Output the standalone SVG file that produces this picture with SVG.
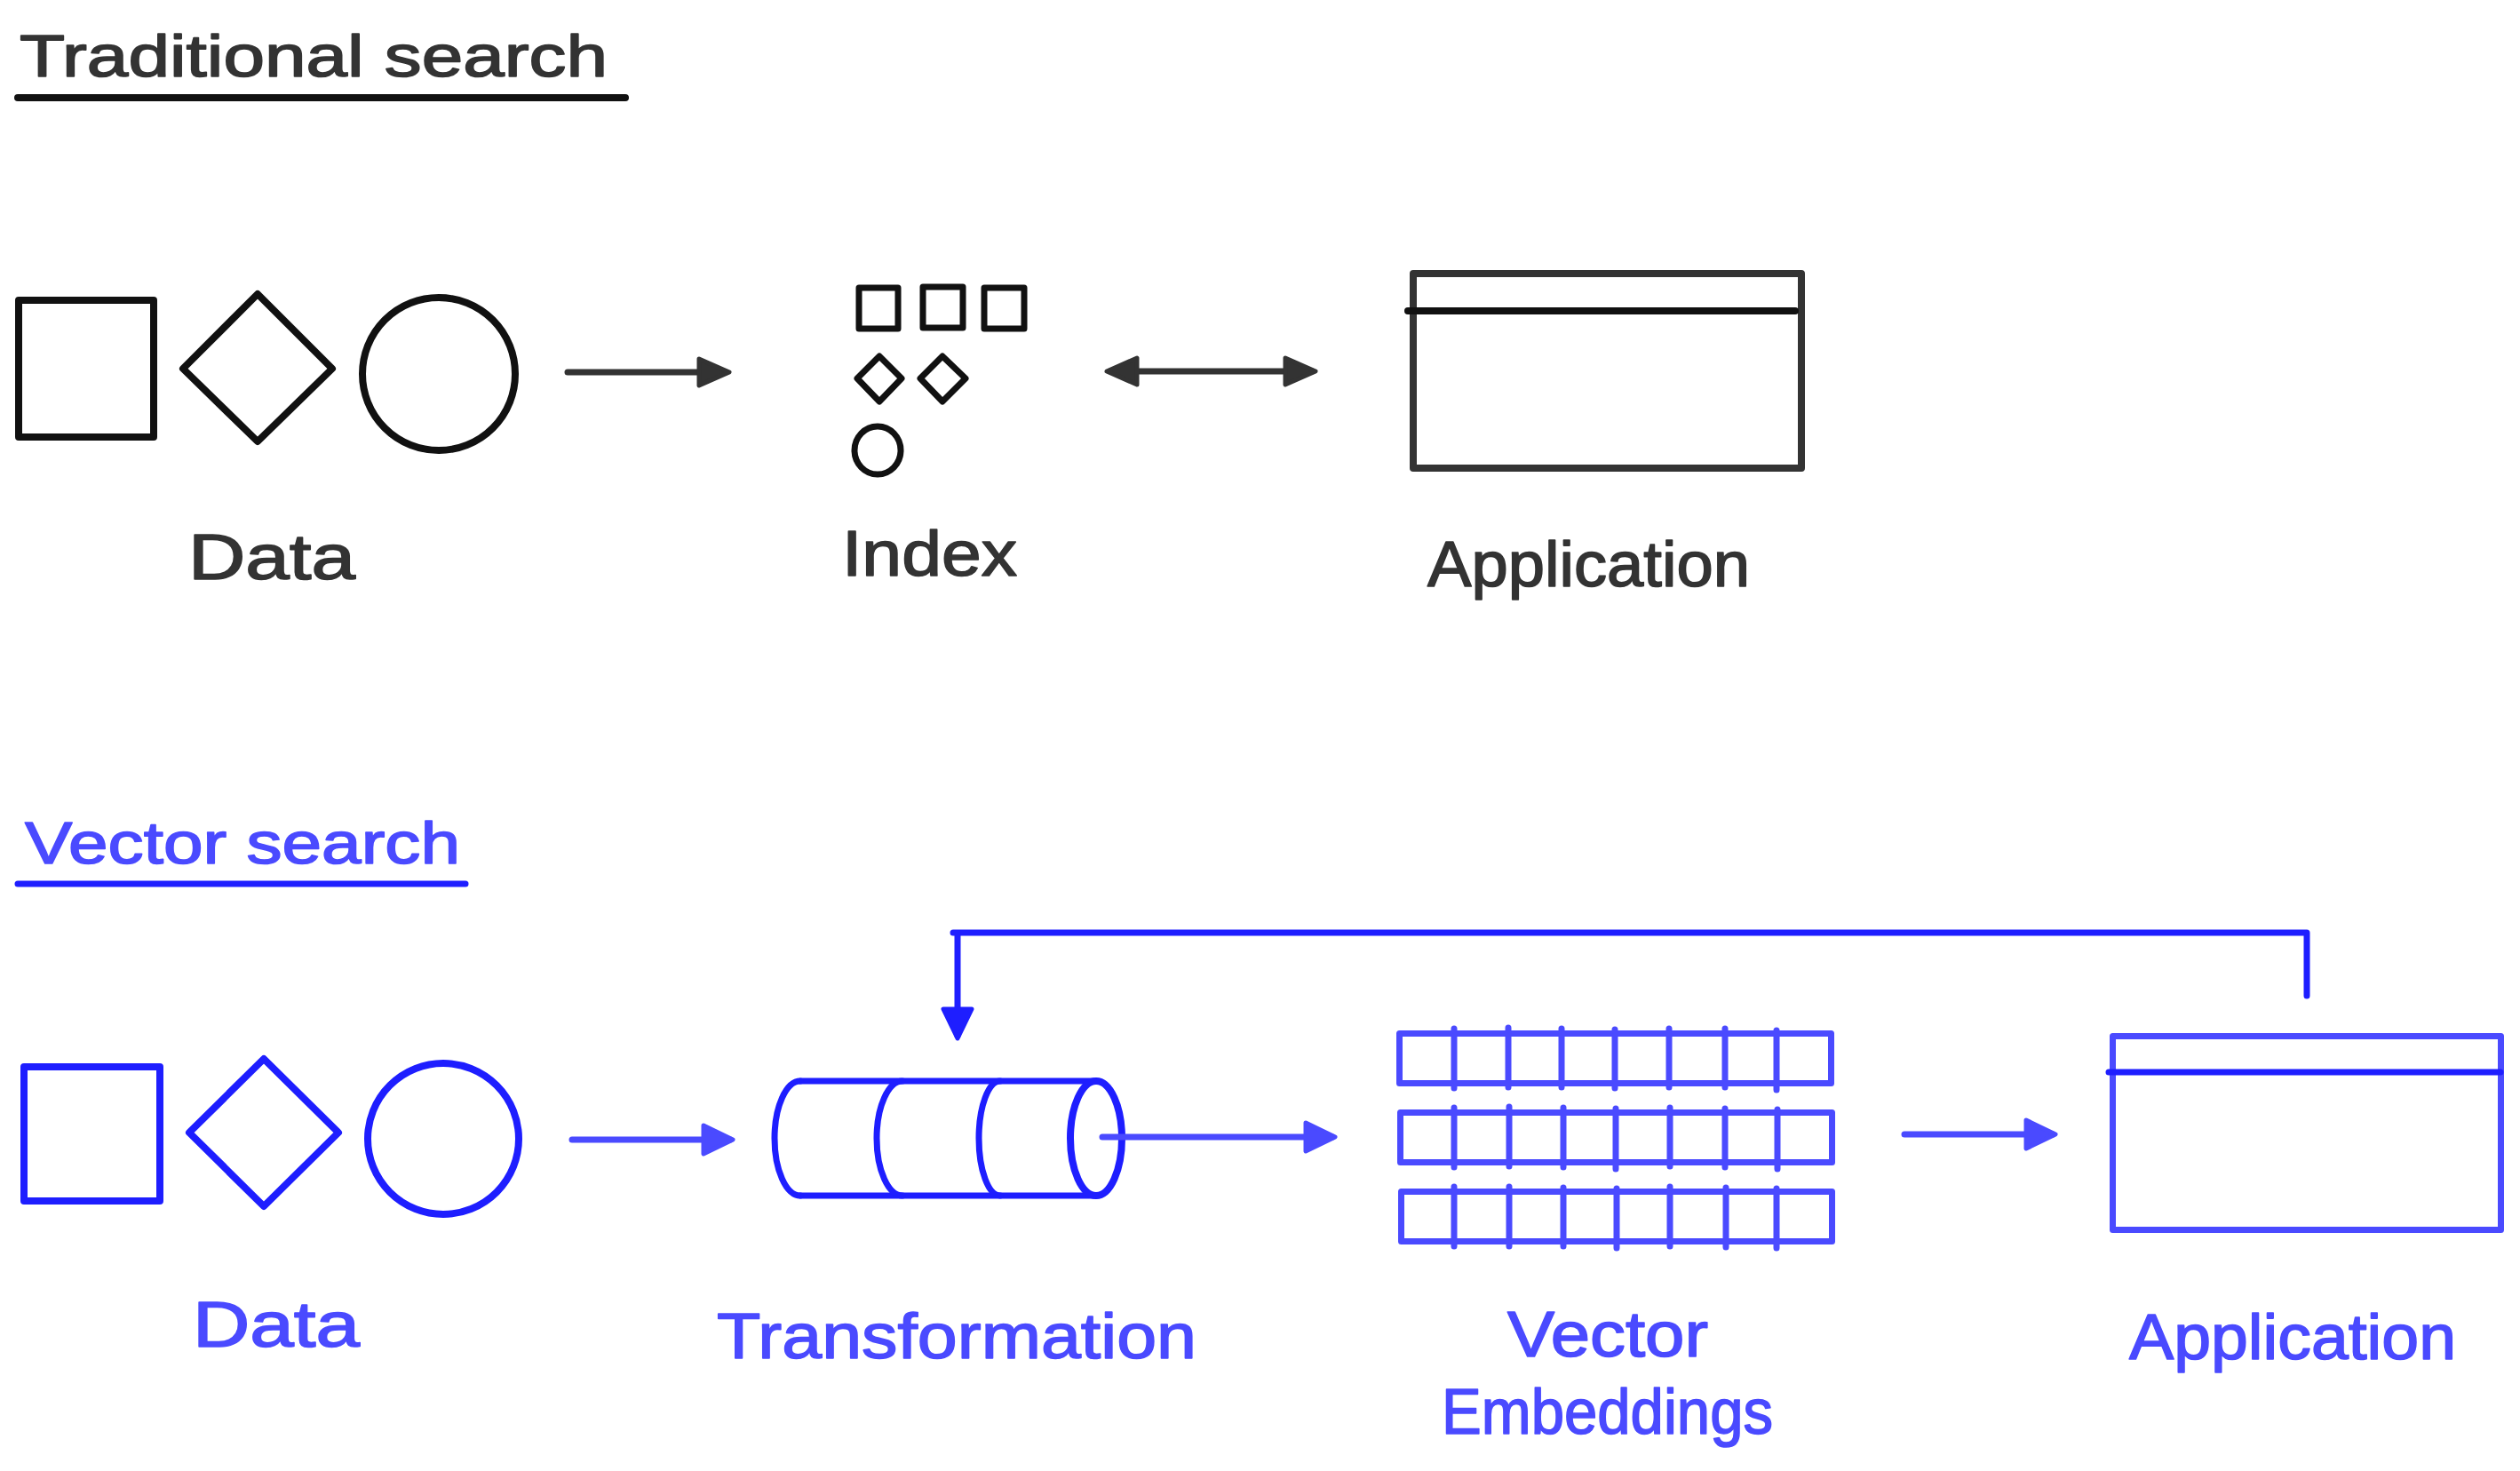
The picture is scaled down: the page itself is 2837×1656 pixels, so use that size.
<svg xmlns="http://www.w3.org/2000/svg" width="2837" height="1656" viewBox="0 0 2837 1656">
<style>
.bg{fill:#ffffff}
.txt{font-family:"Liberation Sans","DejaVu Sans",sans-serif;stroke-width:1.6;stroke-linejoin:round}
.title{font-size:66px}
.lbl{font-size:72px}
.tdark{fill:#333333;stroke:#333333}
.tblue{fill:#4a4aff;stroke:#4a4aff}
.sk{fill:none;stroke-linejoin:round;stroke-linecap:round}
.k{stroke:#111111}
.g{stroke:#333333}
.b{stroke:#1e1eff}
.lb{stroke:#4a4aff}
.w8{stroke-width:8}
.w7{stroke-width:7}
</style>
<defs>
<marker id="ahDark" markerUnits="userSpaceOnUse" markerWidth="46" markerHeight="42" viewBox="-6 -6 46 42" refX="30" refY="15" orient="auto-start-reverse">
<path d="M0,0 L34,15 L0,30 Z" fill="#333333" stroke="#333333" stroke-width="5" stroke-linejoin="round"/>
</marker>
<marker id="ahLight" markerUnits="userSpaceOnUse" markerWidth="46" markerHeight="42" viewBox="-6 -6 46 42" refX="30" refY="16" orient="auto-start-reverse">
<path d="M0,0 L33,16 L0,32 Z" fill="#4a4aff" stroke="#4a4aff" stroke-width="5" stroke-linejoin="round"/>
</marker>
<marker id="ahBlue" markerUnits="userSpaceOnUse" markerWidth="46" markerHeight="42" viewBox="-6 -6 46 42" refX="30" refY="16" orient="auto-start-reverse">
<path d="M0,0 L33,16 L0,32 Z" fill="#1e1eff" stroke="#1e1eff" stroke-width="5" stroke-linejoin="round"/>
</marker>
</defs>
<rect class="bg" x="0" y="0" width="2837" height="1656"/>

<g id="title-traditional">
<text class="txt title tdark" x="22" y="86" textLength="662" lengthAdjust="spacingAndGlyphs">Traditional search</text>
<line class="sk k" x1="20" y1="110" x2="704" y2="110" stroke-width="8"/>
</g>

<g id="title-vector">
<text class="txt title tblue" x="28" y="972" textLength="490" lengthAdjust="spacingAndGlyphs">Vector search</text>
<line class="sk b" x1="20" y1="995" x2="524" y2="995" stroke-width="7"/>
</g>

<g id="trad-data">
<rect class="sk k w8" x="21" y="338" width="152" height="154"/>
<path class="sk k w8" d="M206,415 L290,331 L374,415 L290,497 Z"/>
<circle class="sk k w8" cx="494" cy="421" r="86"/>
<text class="txt lbl tdark" x="212" y="652" textLength="188" lengthAdjust="spacingAndGlyphs">Data</text>
</g>

<g id="trad-index">
<rect class="sk k w7" x="967" y="324" width="44" height="46"/>
<rect class="sk k w7" x="1039" y="323" width="45" height="46"/>
<rect class="sk k w7" x="1108" y="324" width="45" height="46"/>
<path class="sk k w7" d="M965,426 L990,401 L1015,426 L990,452 Z"/>
<path class="sk k w7" d="M1036,426 L1061,401 L1087,426 L1061,452 Z"/>
<ellipse class="sk k w7" cx="988" cy="507" rx="26" ry="27"/>
<text class="txt lbl tdark" x="948" y="648" textLength="197" lengthAdjust="spacingAndGlyphs">Index</text>
</g>

<g id="trad-application">
<rect class="sk g w8" x="1591" y="308" width="437" height="219"/>
<line class="sk k w8" x1="1585" y1="350" x2="2021" y2="350"/>
<text class="txt lbl tdark" x="1607" y="660" textLength="363" lengthAdjust="spacingAndGlyphs">Application</text>
</g>

<g id="vec-data">
<rect class="sk b w8" x="27" y="1201" width="153" height="151"/>
<path class="sk b w8" d="M213,1275 L297,1192 L381,1275 L297,1358 Z"/>
<circle class="sk b w8" cx="499" cy="1282" r="85"/>
<text class="txt lbl tblue" x="217" y="1516" textLength="188" lengthAdjust="spacingAndGlyphs">Data</text>
</g>

<g id="vec-transformation">
<path class="sk b w7" d="M901,1217 L1234,1217 M901,1346 L1234,1346"/>
<path class="sk b w7" d="M901,1217 A29,64.5 0 0 0 901,1346"/>
<path class="sk b w7" d="M1016,1217 A29,64.5 0 0 0 1016,1346"/>
<path class="sk b w7" d="M1126,1217 A24,64.5 0 0 0 1126,1346"/>
<ellipse class="sk b w8" cx="1234" cy="1281.5" rx="29" ry="64.5"/>
<text class="txt lbl tblue" x="807" y="1529" textLength="540" lengthAdjust="spacingAndGlyphs">Transformation</text>
</g>

<g id="vec-embeddings">
<rect class="sk lb w7" x="1575.5" y="1163.5" width="486" height="56"/>
<rect class="sk lb w7" x="1576.5" y="1252.5" width="486" height="56"/>
<rect class="sk lb w7" x="1577.5" y="1341.5" width="485" height="56"/>
<path class="sk lb w7" d="M1637,1158 V1225 M1698,1157 V1224 M1758,1158 V1224 M1818,1159 V1225 M1879,1158 V1224 M1942,1158 V1224 M2000,1160 V1227 M1637,1247 V1314 M1699,1246 V1313 M1760,1247 V1314 M1819,1248 V1316 M1880,1247 V1313 M1942,1248 V1314 M2001,1249 V1316 M1637,1336 V1403 M1699,1336 V1403 M1760,1337 V1403 M1820,1338 V1405 M1880,1336 V1403 M1943,1337 V1404 M2000,1338 V1405"/>
<text class="txt lbl tblue" x="1697" y="1527" textLength="226" lengthAdjust="spacingAndGlyphs">Vector</text>
<text class="txt lbl tblue" x="1623" y="1614" textLength="373" lengthAdjust="spacingAndGlyphs">Embeddings</text>
</g>

<g id="vec-application">
<rect class="sk lb w7" x="2378.5" y="1166.5" width="437" height="218"/>
<line class="sk b w7" x1="2374" y1="1207" x2="2815" y2="1207"/>
<text class="txt lbl tblue" x="2397" y="1530" textLength="368" lengthAdjust="spacingAndGlyphs">Application</text>
</g>

<g id="connectors">
<line class="sk g w7" x1="639" y1="419" x2="817" y2="419" marker-end="url(#ahDark)"/>
<line class="sk g w7" x1="1250" y1="418" x2="1477" y2="418" marker-start="url(#ahDark)" marker-end="url(#ahDark)"/>
<line class="sk lb w7" x1="644" y1="1283" x2="822" y2="1283" marker-end="url(#ahLight)"/>
<line class="sk lb w7" x1="1241" y1="1280" x2="1500" y2="1280" marker-end="url(#ahLight)"/>
<line class="sk lb w7" x1="2144" y1="1277" x2="2311" y2="1277" marker-end="url(#ahLight)"/>
<path class="sk b w7" d="M2597,1121 L2597,1050 L1073,1050 M1078,1053 L1078,1166" marker-end="url(#ahBlue)"/>
</g>
</svg>
